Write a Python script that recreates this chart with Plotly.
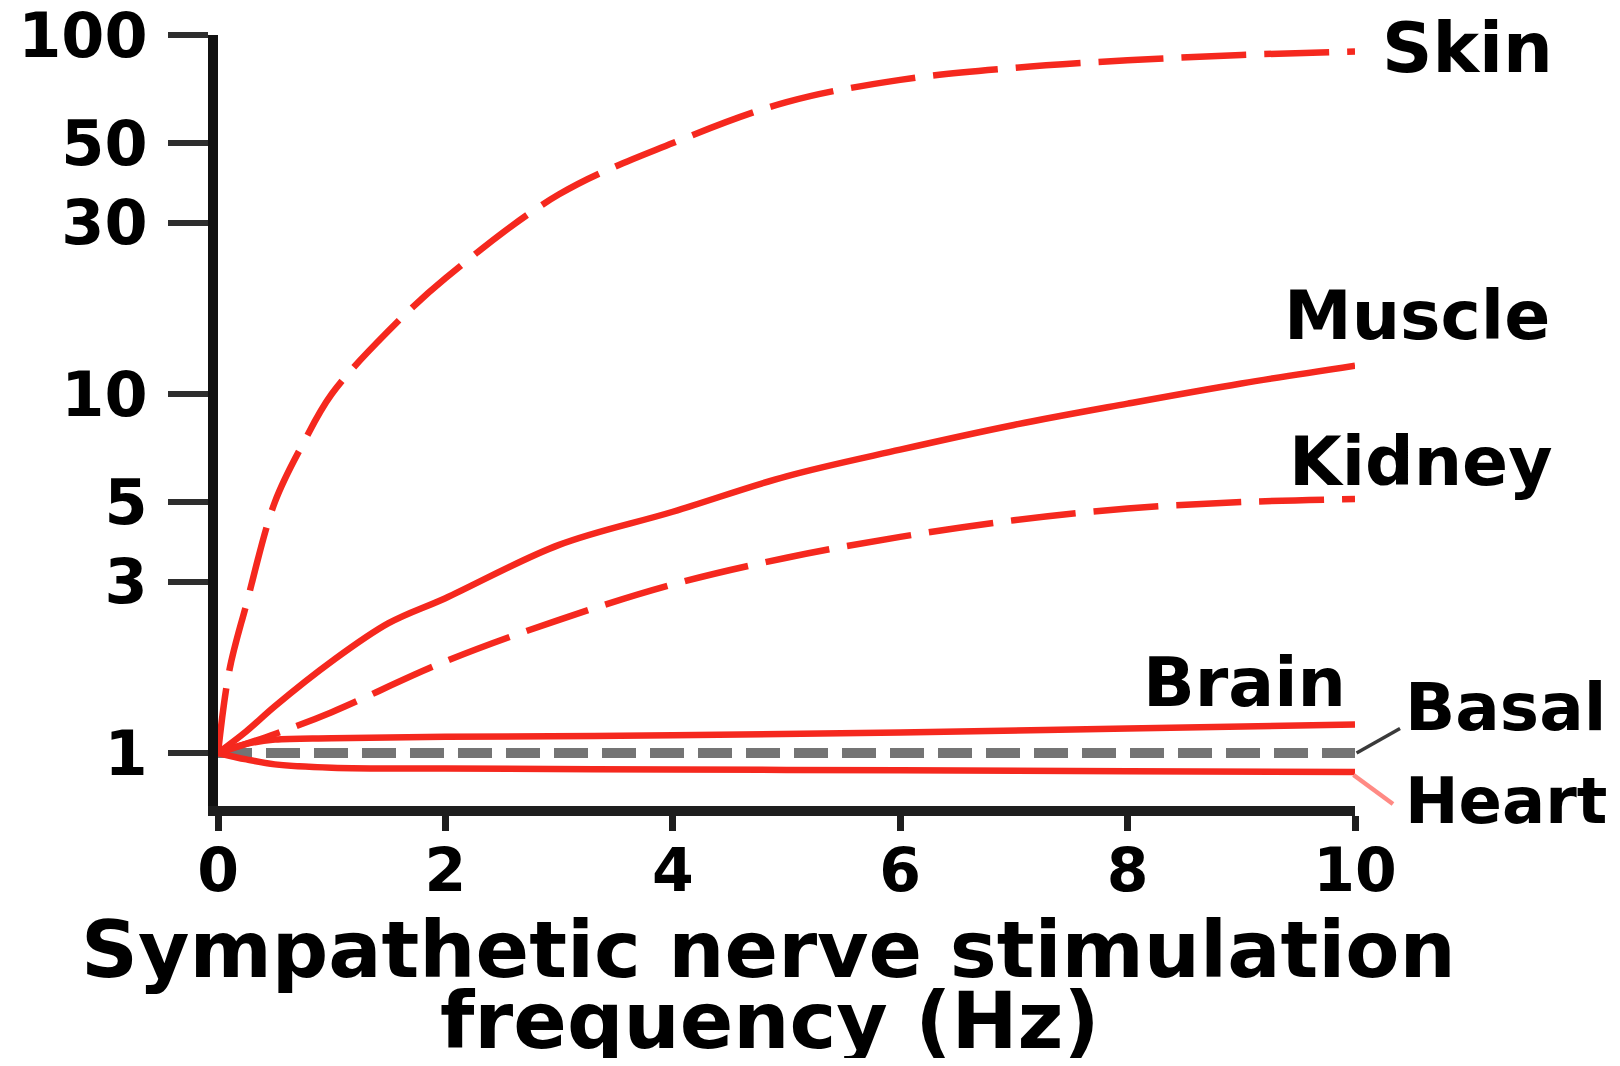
import plotly.graph_objects as go

# ---- data ----
skin_x = [0, 0.1, 0.25, 0.5, 0.75, 1, 1.5, 2, 3, 4, 5, 6, 7, 8, 9, 10]
skin_y = [1, 1.7, 2.6, 5, 7.3, 10, 15, 21, 36, 50, 65, 75, 81, 85, 88, 90]

muscle_x = [0, 0.25, 0.5, 1, 1.5, 2, 3, 4, 5, 6, 7, 8, 9, 10]
muscle_y = [1, 1.15, 1.35, 1.8, 2.3, 2.7, 3.8, 4.7, 5.9, 7.0, 8.2, 9.4, 10.7, 12]

kidney_x = [0, 0.5, 1, 2, 3, 4, 5, 6, 7, 8, 9, 10]
kidney_y = [1, 1.13, 1.3, 1.8, 2.35, 2.95, 3.5, 4.0, 4.45, 4.8, 5.0, 5.1]

brain_x = [0, 0.25, 0.5, 1, 2, 4, 6, 8, 10]
brain_y = [1, 1.06, 1.09, 1.1, 1.11, 1.12, 1.14, 1.17, 1.2]

basal_x = [0, 10]
basal_y = [1, 1]

heart_x = [0, 0.25, 0.5, 1, 2, 4, 6, 8, 10]
heart_y = [1, 0.96, 0.93, 0.91, 0.905, 0.9, 0.895, 0.89, 0.885]

x_ticks = [0, 2, 4, 6, 8, 10]
y_ticks = [1, 3, 5, 10, 30, 50, 100]
y_ticklabels = ["1", "3", "5", "10", "30", "50", "100"]

labels = ["Skin", "Muscle", "Kidney", "Brain", "Basal", "Heart"]
x_title_lines = ["Sympathetic nerve stimulation", "frequency (Hz)"]

RED = "#F5281E"
GRAY = "#747474"
FONT = "DejaVu Sans"
LW = 6.5

fig = go.Figure()

fig.add_trace(go.Scatter(x=basal_x, y=basal_y, mode="lines",
                         line=dict(color=GRAY, width=10, dash="34px,14px")))
fig.add_trace(go.Scatter(x=heart_x, y=heart_y, mode="lines",
                         line=dict(color=RED, width=LW, shape="spline")))
fig.add_trace(go.Scatter(x=brain_x, y=brain_y, mode="lines",
                         line=dict(color=RED, width=LW, shape="spline")))
fig.add_trace(go.Scatter(x=kidney_x, y=kidney_y, mode="lines",
                         line=dict(color=RED, width=LW, shape="spline", dash="65px,18px")))
fig.add_trace(go.Scatter(x=muscle_x, y=muscle_y, mode="lines",
                         line=dict(color=RED, width=LW, shape="spline")))
fig.add_trace(go.Scatter(x=skin_x, y=skin_y, mode="lines",
                         line=dict(color=RED, width=LW, shape="spline", dash="65px,18px")))

# curve labels (paper coordinates)
label_pos = {
    "Skin": (1.0224, 0.983, 70),
    "Muscle": (0.9358, 0.6364, 68),
    "Kidney": (0.9406, 0.4472, 68),
    "Brain": (0.8114, 0.1607, 68),
    "Basal": (1.0422, 0.1275, 66),
    "Heart": (1.0422, 0.007, 64),
}
for name in labels:
    lx, ly, fs = label_pos[name]
    fig.add_annotation(x=lx, y=ly, xref="paper", yref="paper", text=name, showarrow=False,
                       xanchor="left", yanchor="middle",
                       font=dict(family=FONT, size=fs, color="black", weight="bold"))

# leader lines for Basal and Heart
fig.add_shape(type="line", xref="paper", yref="paper", x0=1.0014, y0=0.0687, x1=1.0396, y1=0.1005,
              line=dict(color="#3a3a3a", width=3.5))
fig.add_shape(type="line", xref="paper", yref="paper", x0=0.9987, y0=0.0402, x1=1.0334, y1=0.0026,
              line=dict(color="#FF8A84", width=4.5))

# x-axis title (two lines)
fig.add_annotation(x=0.4843, y=-0.1866, xref="paper", yref="paper", text=x_title_lines[0],
                   showarrow=False, xanchor="center", yanchor="middle",
                   font=dict(family=FONT, size=79, color="black", weight="bold"))
fig.add_annotation(x=0.4851, y=-0.2787, xref="paper", yref="paper", text=x_title_lines[1],
                   showarrow=False, xanchor="center", yanchor="middle",
                   font=dict(family=FONT, size=79, color="black", weight="bold"))

fig.update_layout(
    width=1604, height=1050,
    margin=dict(l=210, r=257, t=26.5, b=252, autoexpand=False),
    paper_bgcolor="white", plot_bgcolor="white",
    showlegend=False,
    xaxis=dict(range=[0, 10], tickvals=x_ticks, showgrid=False, zeroline=False,
               automargin=False,
               showline=True, linewidth=10, linecolor="#1e1e1e",
               ticks="outside", ticklen=15, tickwidth=7, tickcolor="#1e1e1e",
               ticklabelstandoff=-12, ticklabeloverflow="allow",
               tickfont=dict(family=FONT, size=60, color="black", weight="bold")),
    yaxis=dict(type="log", range=[-0.1475, 2.0], tickvals=y_ticks, ticktext=y_ticklabels,
               showgrid=False, zeroline=False, automargin=False,
               showline=True, linewidth=10, linecolor="#111111",
               ticks="outside", ticklen=40, tickwidth=6, tickcolor="#2e2e2e",
               ticklabelstandoff=8, ticklabeloverflow="allow",
               tickfont=dict(family=FONT, size=62, color="black", weight="bold")),
)

fig.write_html("out.html")
